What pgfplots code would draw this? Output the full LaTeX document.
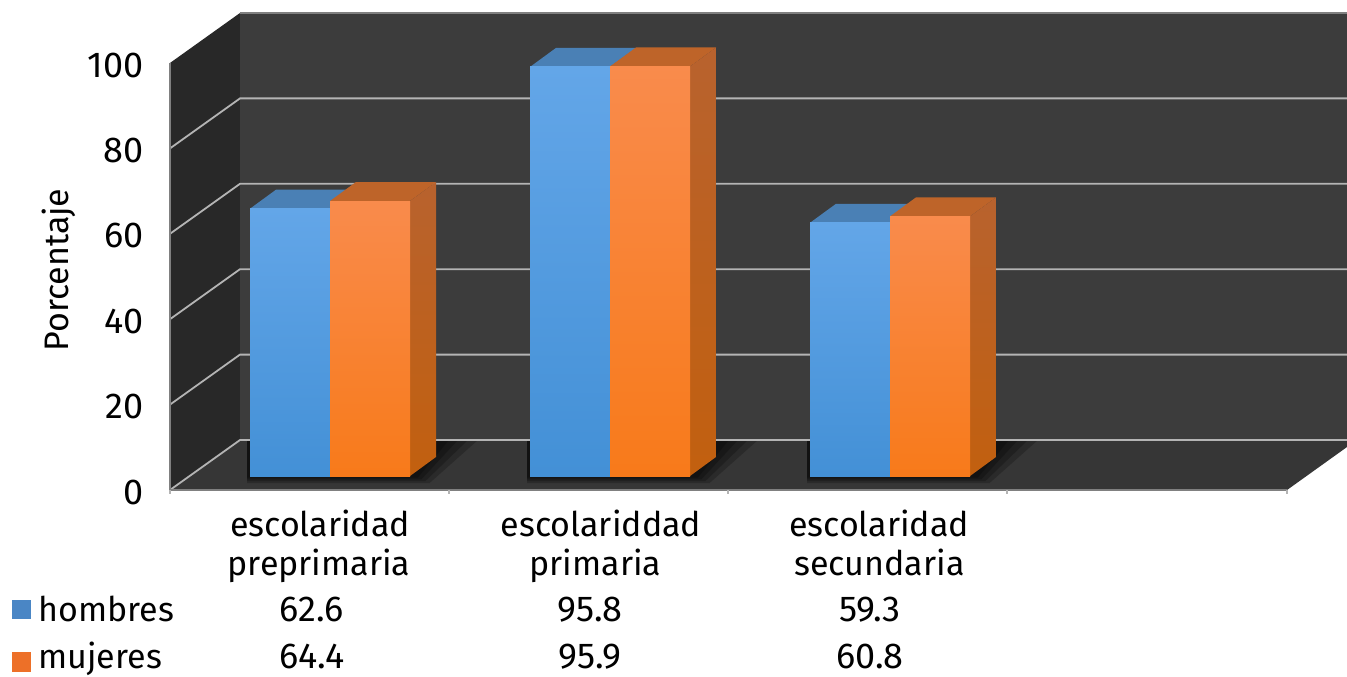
\documentclass[border=0pt]{standalone}
\usepackage{fontspec}
\setmainfont{Fira Sans}
\usepackage{pgfplots}
\pgfplotsset{compat=1.18}
\definecolor{wallL}{HTML}{282828}
\definecolor{wallB}{HTML}{3C3C3C}
\definecolor{floorC}{HTML}{363636}
\definecolor{gridC}{HTML}{B4B4B4}
\definecolor{blueTopF}{HTML}{63A6E8}
\definecolor{blueBotF}{HTML}{4390D6}
\definecolor{blueTop}{HTML}{4A80B5}
\definecolor{orTopF}{HTML}{F98B4C}
\definecolor{orBotF}{HTML}{F87A1A}
\definecolor{orTop}{HTML}{BE6429}
\definecolor{orSideT}{HTML}{B8622E}
\definecolor{orSideB}{HTML}{C2600F}
\definecolor{legB}{HTML}{4A86C5}
\definecolor{legO}{HTML}{ED7028}
% one 3D column: left, right, value, front top colour, front bottom colour, top colour
\newcommand{\column}[6]{%
  \pgfmathsetmacro{\ytop}{3.28+#3}%
  \pgfmathsetmacro{\ytopb}{3.28+#3+4.45}%
  \pgfmathsetmacro{\xla}{#1+26}%
  \pgfmathsetmacro{\xra}{#2+26}%
  \addplot[draw=none,fill=#6] coordinates {(#1,\ytop) (\xla,\ytopb) (\xra,\ytopb) (#2,\ytop)} -- cycle;
  \addplot[draw=none,top color=orSideT,bottom color=orSideB] coordinates {(#2,3.28) (\xra,7.73) (\xra,\ytopb) (#2,\ytop)} -- cycle;
  \addplot[draw=none,top color=#4,bottom color=#5] coordinates {(#1,3.28) (#2,3.28) (#2,\ytop) (#1,\ytop)} -- cycle;
}
% soft floor shadow: left edge of the group, reach to the right, lower edge
\newcommand{\shadowlayer}[3]{%
  \pgfmathsetmacro{\xa}{#1-3}\pgfmathsetmacro{\xb}{#1+165+#2*.4}\pgfmathsetmacro{\xc}{#1+192+#2}%
  \addplot[draw=none,fill=black,opacity=.22] coordinates {(\xa,#3) (\xb,#3) (\xc,11.71) (\xa,11.71)} -- cycle;
}
\newcommand{\shadow}[1]{%
  \shadowlayer{#1}{36}{1.6}\shadowlayer{#1}{26}{2.1}\shadowlayer{#1}{16}{2.5}\shadowlayer{#1}{7}{2.9}%
}
\begin{document}
\begin{tikzpicture}
\path[use as bounding box,fill=white] (-85pt,-93pt) rectangle (588.5pt,245pt);
\begin{axis}[
  at={(0pt,0pt)},anchor=south west,
  scale only axis,width=588.5pt,height=238.5pt,
  xmin=0,xmax=1177,ymin=0,ymax=111.71,
  clip=false,
  axis line style={draw=none},
  tick style={draw=none},
  major tick length=0pt,
  ytick={0,20,40,60,80,100},
  xtick=\empty,
  /pgf/number format/assume math mode=true,
  tick label style={font=\fontsize{18}{20}\selectfont},
  y tick label style={inner sep=0pt,anchor=east,xshift=-13pt,yshift=-1pt},
]
% walls and floor
\addplot[draw=none,fill=wallL] coordinates {(0,0) (0,100) (70,111.71) (70,11.71)} -- cycle;
\addplot[draw=none,fill=wallB] coordinates {(70,11.71) (70,111.71) (1177,111.71) (1177,11.71)} -- cycle;
\addplot[draw=none,fill=floorC] coordinates {(0,0) (70,11.71) (1177,11.71) (1177,10.07) (1117,0)} -- cycle;
% shadows
\shadow{80}
\shadow{360}
\shadow{640}
% grid lines
\addplot[gridC,line width=.9pt] coordinates {(0,0) (70,11.71) (1177,11.71)};
\addplot[gridC,line width=.9pt] coordinates {(0,20) (70,31.71) (1177,31.71)};
\addplot[gridC,line width=.9pt] coordinates {(0,40) (70,51.71) (1177,51.71)};
\addplot[gridC,line width=.9pt] coordinates {(0,60) (70,71.71) (1177,71.71)};
\addplot[gridC,line width=.9pt] coordinates {(0,80) (70,91.71) (1177,91.71)};
\addplot[gray,line width=.7pt] coordinates {(70,111.71) (1177,111.71)};
\addplot[gray,line width=.8pt] coordinates {(0,100) (0,0) (1117,0)};
% x ticks
\addplot[gridC,line width=.6pt] coordinates {(0,0) (0,-1)};
\addplot[gridC,line width=.6pt] coordinates {(279,0) (279,-1)};
\addplot[gridC,line width=.6pt] coordinates {(558,0) (558,-1)};
\addplot[gridC,line width=.6pt] coordinates {(837,0) (837,-1)};
\addplot[gridC,line width=.6pt] coordinates {(1117,0) (1117,-1)};
% columns
\column{80}{160}{62.6}{blueTopF}{blueBotF}{blueTop}
\column{160}{240}{64.4}{orTopF}{orBotF}{orTop}
\column{360}{440}{95.8}{blueTopF}{blueBotF}{blueTop}
\column{440}{520}{95.9}{orTopF}{orBotF}{orTop}
\column{640}{720}{59.3}{blueTopF}{blueBotF}{blueTop}
\column{720}{800}{60.8}{orTopF}{orBotF}{orTop}
% legend keys
\addplot[draw=none,fill=legB] coordinates {(-158,-25.76) (-139,-25.76) (-139,-30.2) (-158,-30.2)} -- cycle;
\addplot[draw=none,fill=legO] coordinates {(-158,-37.94) (-139,-37.94) (-139,-42.6) (-158,-42.6)} -- cycle;
% texts
\tikzset{lab/.style={font=\fontsize{17}{20}\selectfont,inner sep=0pt},
         num/.style={font=\fontsize{18}{20}\selectfont,inner sep=0pt}}
\node[lab,rotate=90] at (axis cs:-111,51.5) {Porcentaje};
\node[lab,anchor=base] at (axis cs:150,-10.8) {escolaridad};
\node[lab,anchor=base] at (axis cs:149,-20.1) {preprimaria};
\node[lab,anchor=base] at (axis cs:431,-10.8) {escolariddad};
\node[lab,anchor=base] at (axis cs:425.5,-20.1) {primaria};
\node[lab,anchor=base] at (axis cs:709,-10.8) {escolaridad};
\node[lab,anchor=base] at (axis cs:709.5,-20.1) {secundaria};
\node[lab,anchor=base west] at (axis cs:-132,-30.7) {hombres};
\node[lab,anchor=base west] at (axis cs:-132,-41.8) {mujeres};
\node[num,anchor=base] at (axis cs:142,-30.7) {62.6};
\node[num,anchor=base] at (axis cs:142,-41.8) {64.4};
\node[num,anchor=base] at (axis cs:420,-30.7) {95.8};
\node[num,anchor=base] at (axis cs:420,-41.8) {95.9};
\node[num,anchor=base] at (axis cs:700,-30.7) {59.3};
\node[num,anchor=base] at (axis cs:700,-41.8) {60.8};
\end{axis}
\end{tikzpicture}
\end{document}
